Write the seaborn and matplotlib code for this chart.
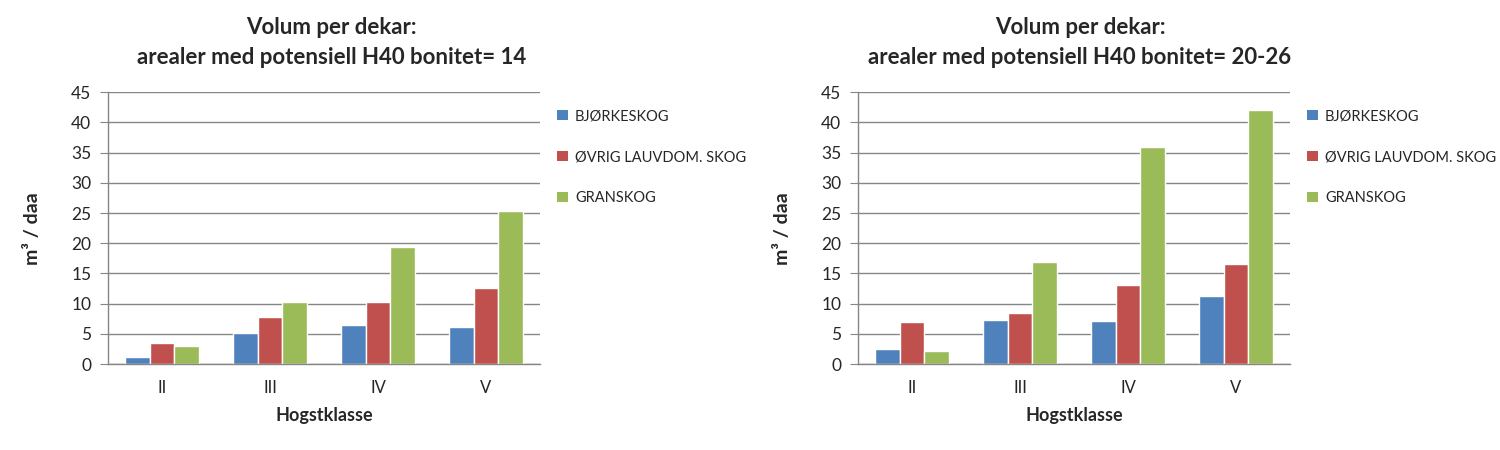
import pandas as pd
import matplotlib
matplotlib.use("Agg")
import matplotlib.pyplot as plt
import seaborn as sns
from matplotlib.patches import Patch

# data
klasser = ["II", "III", "IV", "V"]
grupper = ["BJØRKESKOG", "ØVRIG LAUVDOM. SKOG", "GRANSKOG"]

bonitet14_bjork = [1.2, 5.1, 6.5, 6.1]
bonitet14_lauv = [3.5, 7.8, 10.3, 12.6]
bonitet14_gran = [3.0, 10.3, 19.4, 25.4]

bonitet20_bjork = [2.5, 7.3, 7.1, 11.3]
bonitet20_lauv = [7.0, 8.5, 13.1, 16.6]
bonitet20_gran = [2.2, 16.9, 36.0, 42.0]

titler = ["Volum per dekar:\narealer med potensiell H40 bonitet= 14",
          "Volum per dekar:\narealer med potensiell H40 bonitet= 20-26"]

farger = ["#4F81BD", "#C0504D", "#9BBB59"]


def lag_df(bjork, lauv, gran):
    rows = []
    for serie, verdier in zip(grupper, [bjork, lauv, gran]):
        for k, v in zip(klasser, verdier):
            rows.append({"Hogstklasse": k, "gruppe": serie, "volum": v})
    return pd.DataFrame(rows)


data = [lag_df(bonitet14_bjork, bonitet14_lauv, bonitet14_gran),
        lag_df(bonitet20_bjork, bonitet20_lauv, bonitet20_gran)]

sns.set_style("white")
plt.rcParams["font.family"] = ["Lato", "DejaVu Sans"]

fig = plt.figure(figsize=(15, 4.5), dpi=100)
akser = [fig.add_axes([0.072, 0.191, 0.288, 0.604]),
         fig.add_axes([0.572, 0.191, 0.288, 0.604])]
tittel_x = [0.221, 0.72]

for ax, df, tittel, tx in zip(akser, data, titler, tittel_x):
    sns.barplot(data=df, x="Hogstklasse", y="volum", hue="gruppe",
                hue_order=grupper, order=klasser, palette=farger,
                width=0.68, ax=ax, legend=False, saturation=1)
    ax.set_ylim(0, 45)
    ax.set_yticks(range(0, 50, 5))
    ax.set_xlim(-0.5, 3.5)
    ax.yaxis.grid(True, color="#868686", linewidth=1)
    ax.set_axisbelow(True)
    for s in ["top", "right"]:
        ax.spines[s].set_visible(False)
    for s in ["left", "bottom"]:
        ax.spines[s].set_color("#868686")
        ax.spines[s].set_linewidth(1)
    ax.tick_params(axis="y", which="major", left=True, length=6,
                   color="#868686", labelsize=12.5, pad=6)
    ax.tick_params(axis="x", bottom=False, labelsize=12, pad=8)
    ax.set_xlabel("Hogstklasse", fontsize=13, fontweight="bold", labelpad=8)
    ax.set_ylabel("m³ / daa", fontsize=14, fontweight="bold", labelpad=22)

    handles = [Patch(facecolor=c, edgecolor="none") for c in farger]
    ax.legend(handles, grupper, loc="upper left", bbox_to_anchor=(1.01, 0.985),
              frameon=False, fontsize=10.5, handlelength=0.7, handleheight=0.7,
              handletextpad=0.5, labelspacing=1.85)

    fig.text(tx, 0.963, tittel, ha="center", va="top", fontsize=16,
             fontweight="bold", linespacing=1.55)

fig.savefig("out.png", dpi=100)
